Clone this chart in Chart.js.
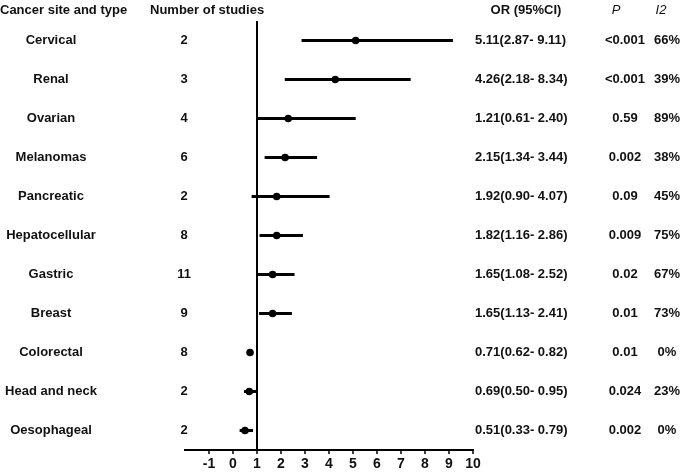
<!DOCTYPE html>
<html>
<head>
<meta charset="utf-8">
<script src="https://cdn.jsdelivr.net/npm/chart.js@4.4.1/dist/chart.umd.min.js"></script>
<style>
  html, body { margin: 0; padding: 0; background: #fff; }
  canvas { display: block; }
</style>
</head>
<body>
<canvas id="forest" width="685" height="472"></canvas>
<script>
const sites = ["Cervical", "Renal", "Ovarian", "Melanomas", "Pancreatic", "Hepatocellular",
    "Gastric", "Breast", "Colorectal", "Head and neck", "Oesophageal"];
const studies = [2, 3, 4, 6, 2, 8, 11, 9, 8, 2, 2];

// plotted estimates and intervals
const orPoint = [5.11, 4.26, 2.3, 2.17, 1.82, 1.82, 1.65, 1.65, 0.71, 0.68, 0.5];
const ciLow = [2.87, 2.17, 1.0, 1.33, 0.79, 1.12, 1.03, 1.1, 0.62, 0.47, 0.29];
const ciHigh = [9.15, 7.39, 5.1, 3.49, 4.01, 2.9, 2.55, 2.44, 0.82, 0.99, 0.82];

// table columns as printed
const orText = ["5.11(2.87- 9.11)", "4.26(2.18- 8.34)", "1.21(0.61- 2.40)", "2.15(1.34- 3.44)",
    "1.92(0.90- 4.07)", "1.82(1.16- 2.86)", "1.65(1.08- 2.52)", "1.65(1.13- 2.41)",
    "0.71(0.62- 0.82)", "0.69(0.50- 0.95)", "0.51(0.33- 0.79)"];
const pText = ["<0.001", "<0.001", "0.59", "0.002", "0.09", "0.009", "0.02", "0.01", "0.01", "0.024", "0.002"];
const i2Text = ["66%", "39%", "89%", "38%", "45%", "75%", "67%", "73%", "0%", "23%", "0%"];

const tickValues = [-1, 0, 1, 2, 3, 4, 5, 6, 7, 8, 9, 10];

const FONT = "'Liberation Sans', Arial, sans-serif";

// writes the table columns next to the rows
const tableText = {
    id: "tableText",
    afterDraw(chart) {
        const ctx = chart.ctx;
        const y = chart.scales.y;
        ctx.save();
        ctx.fillStyle = "#111";
        ctx.textBaseline = "middle";

        ctx.font = "bold 13px " + FONT;
        ctx.textAlign = "left";
        ctx.fillText("Cancer site and type", 0, 10);
        ctx.fillText("Number of studies", 150, 10);
        ctx.textAlign = "center";
        ctx.fillText("OR (95%CI)", 526, 10);
        ctx.font = "italic 13px " + FONT;
        ctx.fillText("P", 616, 10);
        ctx.fillText("I2", 661, 10);

        ctx.font = "bold 13px " + FONT;
        sites.forEach((s, i) => {
            const py = y.getPixelForValue(i);
            ctx.textAlign = "center";
            ctx.fillText(s, 51, py);
            ctx.fillText(String(studies[i]), 184, py);
            ctx.textAlign = "left";
            ctx.fillText(orText[i], 475, py);
            ctx.textAlign = "center";
            ctx.fillText(pText[i], 625, py);
            ctx.fillText(i2Text[i], 667, py);
        });
        ctx.restore();
    }
};

new Chart(document.getElementById("forest"), {
    type: "bar",
    data: {
        labels: sites,
        datasets: [
            {
                type: "line",
                data: orPoint,
                showLine: false,
                pointRadius: 3.8,
                pointBorderWidth: 0,
                pointBackgroundColor: "#000",
                order: 0,
            },
            {
                data: ciLow.map((lo, i) => [lo, ciHigh[i]]),
                backgroundColor: "#000",
                barThickness: 2.4,
                order: 1,
            },
        ],
    },
    options: {
        indexAxis: "y",
        responsive: false,
        animation: false,
        layout: {
            padding: { left: 185, right: 212, top: 21, bottom: 0 },
        },
        plugins: {
            legend: { display: false },
            tooltip: { enabled: false },
        },
        scales: {
            x: {
                type: "linear",
                min: -2,
                max: 10,
                afterBuildTicks: (scale) => {
                    scale.ticks = tickValues.map(v => ({ value: v }));
                },
                afterFit: (scale) => {
                    scale.height = 22;
                },
                border: { display: true, color: "#000", width: 2 },
                grid: {
                    color: (c) => (c.tick && c.tick.value === 1 ? "#000" : "rgba(0,0,0,0)"),
                    lineWidth: 2,
                    drawTicks: true,
                    tickLength: 4,
                    tickColor: "#000",
                    tickWidth: 1.5,
                },
                ticks: {
                    color: "#111",
                    padding: 2,
                    maxRotation: 0,
                    autoSkip: false,
                    font: { family: FONT, size: 14, weight: "bold" },
                },
            },
            y: {
                type: "category",
                display: false,
            },
        },
    },
    plugins: [tableText],
});
</script>
</body>
</html>
